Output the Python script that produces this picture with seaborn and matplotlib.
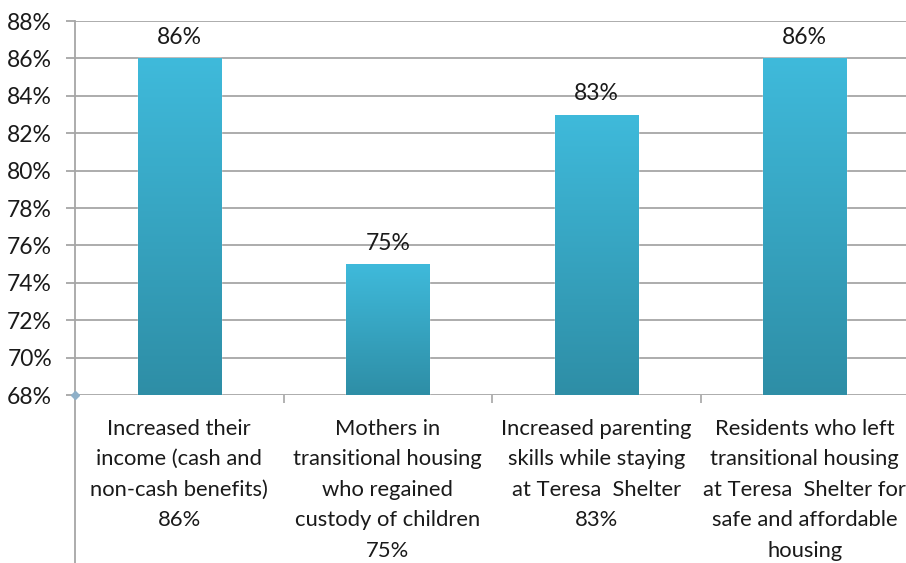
import numpy as np
import pandas as pd
import seaborn as sns
import matplotlib.pyplot as plt
from matplotlib.colors import LinearSegmentedColormap
from matplotlib.lines import Line2D
from matplotlib.ticker import FuncFormatter, MultipleLocator, FixedLocator

categories = [
    "Increased their\nincome (cash and\nnon-cash benefits)\n86%",
    "Mothers in\ntransitional housing\nwho regained\ncustody of children\n75%",
    "Increased parenting\nskills while staying\nat Teresa  Shelter\n83%",
    "Residents who left\ntransitional housing\nat Teresa  Shelter for\nsafe and affordable\nhousing",
]
values = [86, 75, 83, 86]
bar_labels = ["86%", "75%", "83%", "86%"]

df = pd.DataFrame({"cat": categories, "val": values})

sns.set_style("white")
plt.rcParams["font.family"] = ["Lato", "DejaVu Sans"]
txt = "#1a1a1a"
grid_c = "#a6a6a6"
fs = 16.5

fig = plt.figure(figsize=(9.06, 5.63), dpi=100)
ax = fig.add_axes([75 / 906, 168 / 563, 834 / 906, 374 / 563])

sns.barplot(data=df, x="cat", y="val", color="#3ab3d4", width=0.4, ax=ax,
            zorder=3, saturation=1)

# vertical gradient on every bar
cmap = LinearSegmentedColormap.from_list("bar", ["#2e8ea6", "#3fbadb"])
grad = np.linspace(0, 1, 256).reshape(-1, 1)
for p in ax.patches:
    x0, y0 = p.get_x(), 68
    x1, y1 = x0 + p.get_width(), p.get_height()
    im = ax.imshow(grad, cmap=cmap, aspect="auto", origin="lower",
                   extent=[x0, x1, y0, y1], zorder=3.5)
    im.set_clip_path(p)

ax.set_xlim(-0.5, 3.5)
ax.set_ylim(68, 88)
ax.yaxis.set_major_locator(MultipleLocator(2))
ax.yaxis.set_major_formatter(FuncFormatter(lambda v, _: f"{v:.0f}%"))
ax.grid(axis="y", color=grid_c, linewidth=1.3, zorder=0)
ax.set_axisbelow(True)

for i, v in enumerate(values):
    ax.text(i, v + 0.55, bar_labels[i], ha="center", va="bottom",
            fontsize=fs, color=txt)

ax.set_xlabel("")
ax.set_ylabel("")
ax.tick_params(axis="y", left=True, length=6.5, color=grid_c, width=1.3,
               pad=10, labelsize=fs, labelcolor=txt)
ax.tick_params(axis="x", which="major", bottom=True, length=0, pad=17,
               labelsize=15.8, labelcolor=txt)
for lab in ax.get_xticklabels():
    lab.set_linespacing(1.66)
    lab.set_va("top")
ax.xaxis.set_minor_locator(FixedLocator([0.5, 1.5, 2.5]))
ax.tick_params(axis="x", which="minor", bottom=True, length=6, color=grid_c,
               width=1.2, direction="out")

for s in ["top", "right", "bottom"]:
    ax.spines[s].set_visible(False)
ax.spines["left"].set_color(grid_c)
ax.spines["left"].set_linewidth(1.3)

# left axis line runs on below the plot, as in the original
ax.add_line(Line2D([0, 0], [0, -0.46], transform=ax.transAxes, color=grid_c,
                   linewidth=1.3, clip_on=False))
ax.plot([0], [0], marker="D", markersize=4, color="#8fb0c8",
        transform=ax.transAxes, clip_on=False, zorder=5)

fig.savefig("out.png", dpi=100)
